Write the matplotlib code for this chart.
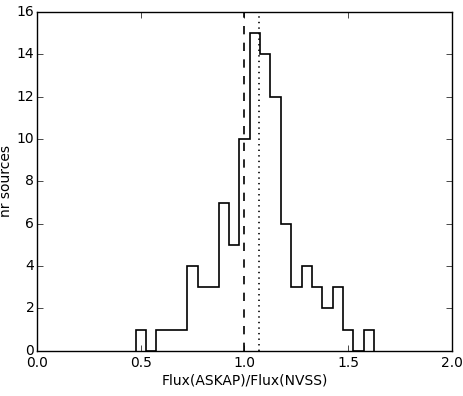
import matplotlib
matplotlib.use('Agg')
import matplotlib.pyplot as plt
import numpy as np

plt.style.use('classic')
plt.rcParams['font.size'] = 10

# histogram of flux ratios, bins of 0.05
bin_edges = np.round(np.arange(0.475, 1.626, 0.05), 3)
counts = [1, 0, 1, 1, 1, 4, 3, 3, 7, 5, 10, 15, 14, 12, 6, 3, 4, 3, 2, 3, 1, 0, 1]
ratio_unity = 1.0
ratio_median = 1.07

fig = plt.figure(figsize=(4.63, 3.96), dpi=100)
ax = fig.add_axes([0.080, 0.114, 0.896, 0.856])

ax.stairs(counts, bin_edges, color='black', linewidth=1.2)
ax.axvline(ratio_unity, color='black', linestyle='--', linewidth=1.2)
ax.axvline(ratio_median, color='black', linestyle=':', linewidth=1.2)

ax.set_xlim(0.0, 2.0)
ax.set_ylim(0, 16)
ax.set_xticks([0.0, 0.5, 1.0, 1.5, 2.0])
ax.set_yticks(range(0, 17, 2))
ax.tick_params(axis='y', pad=2)
ax.tick_params(axis='x', pad=4)
ax.set_xlabel('Flux(ASKAP)/Flux(NVSS)')
ax.set_ylabel('nr sources')
ax.yaxis.set_label_coords(-0.058, 0.5)
ax.xaxis.set_label_coords(0.5, -0.066)

fig.savefig('out.png', dpi=100)
